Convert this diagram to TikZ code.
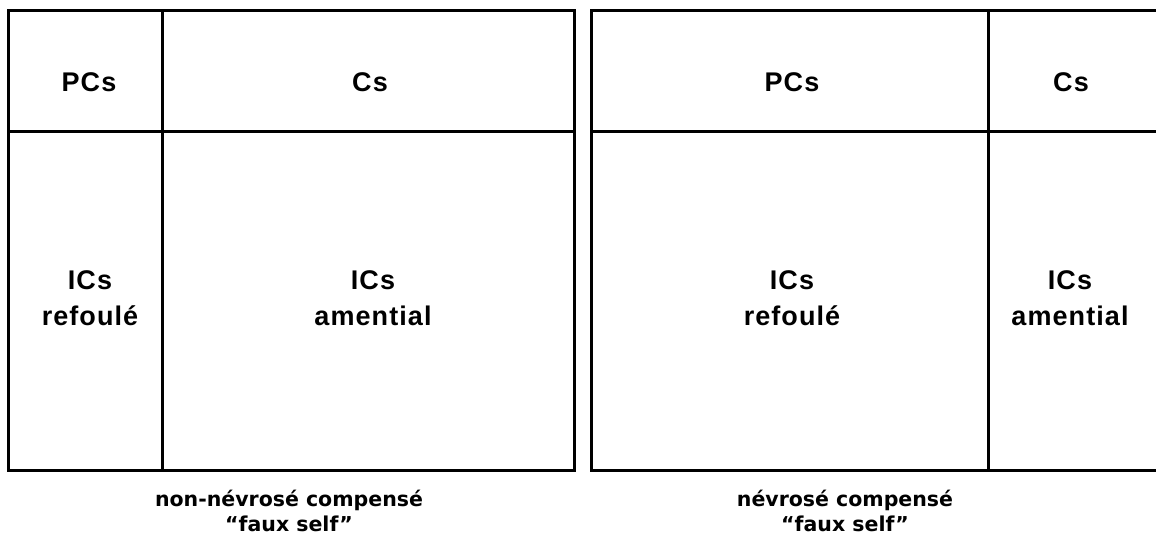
\documentclass[tikz,border=0pt]{standalone}
\usepackage{fontspec}
\setmainfont{Liberation Sans}
\newfontfamily\lblfont[LetterSpace=4]{Liberation Sans}
\newfontfamily\capfont{DejaVu Sans}
\begin{document}
\begin{tikzpicture}[x=1pt,y=-1pt,
  boxline/.style={line width=3pt},
  lbl/.style={font=\lblfont\fontsize{27}{36}\selectfont\bfseries, align=center, inner sep=0pt},
  captxt/.style={font=\capfont\fontsize{20.5}{25}\selectfont\bfseries, align=center, inner sep=0pt}]
\useasboundingbox (0,0) rectangle (1156,541);
% left box
\coordinate (LA) at (8,10);
\coordinate (LB) at (574,470);
\draw[boxline] (LA) rectangle (LB);
\coordinate (L1t) at (162,10); \coordinate (L1b) at (162,470);
\draw[boxline] (L1t) -- (L1b);
\coordinate (L2l) at (8,131); \coordinate (L2r) at (574,131);
\draw[boxline] (L2l) -- (L2r);
% right box
\coordinate (RA) at (591,10);
\coordinate (RB) at (1160,470);
\draw[boxline] (RA) rectangle (RB);
\coordinate (R1t) at (988,10); \coordinate (R1b) at (988,470);
\draw[boxline] (R1t) -- (R1b);
\coordinate (R2l) at (591,131); \coordinate (R2r) at (1160,131);
\draw[boxline] (R2l) -- (R2r);
% labels
\node[lbl, anchor=base] (pcsL) at (89,91) {PCs};
\node[lbl, anchor=base] (csL) at (370,91) {Cs};
\node[lbl] (icsrL) at (90,298) {ICs\\refoulé};
\node[lbl] (icsaL) at (373,298) {ICs\\amential};
\node[lbl, anchor=base] (pcsR) at (792,91) {PCs};
\node[lbl, anchor=base] (csR) at (1071,91) {Cs};
\node[lbl] (icsrR) at (792,298) {ICs\\refoulé};
\node[lbl] (icsaR) at (1070,298) {ICs\\amential};
\node[captxt] (capL) at (289,511) {non-névrosé compensé\\“faux self”};
\node[captxt] (capR) at (845,511) {névrosé compensé\\“faux self”};
\end{tikzpicture}
\end{document}
